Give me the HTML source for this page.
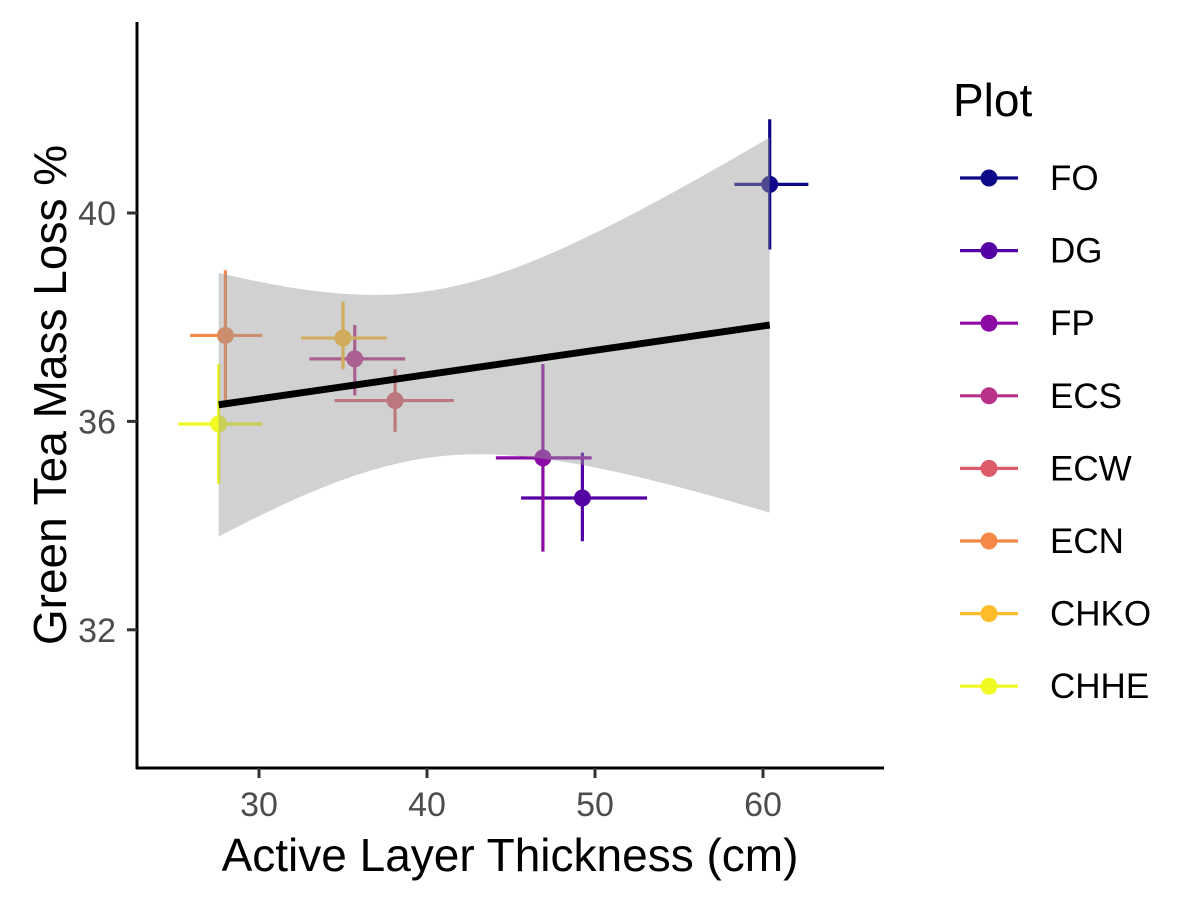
<!DOCTYPE html>
<html><head><meta charset="utf-8"><style>
body{margin:0;background:#fff;}
svg text{font-family:"Liberation Sans",Arial,sans-serif;}
</style></head><body>
<svg id="chart" width="1200" height="900" viewBox="0 0 1200 900">
<g id="marks"></g>
<g id="axes"></g>
<g id="legend"></g>
</svg>
<script>
const plots=["FO","DG","FP","ECS","ECW","ECN","CHKO","CHHE"];
const colors=["#0D0887","#5402A3","#8B0AA5","#B93289","#DB5C68","#F48849","#FEBC2A","#F0F921"];
const xVals=[60.4,49.25,46.9,35.7,38.1,28.0,35.0,27.6];
const yVals=[40.55,34.53,35.3,37.2,36.4,37.65,37.6,35.95];
const xLo=[58.3,45.6,44.1,33.0,34.5,25.9,32.5,25.2];
const xHi=[62.7,53.1,49.8,38.7,41.6,30.2,37.6,30.2];
const yLo=[39.3,33.7,33.5,36.5,35.8,36.4,37.0,34.8];
const yHi=[41.8,35.4,37.1,37.85,37.0,38.9,38.3,37.1];
const xTicks=[30,40,50,60];
const yTicks=[32,36,40];
const fitX=[27.6,60.4];
const fitY=[36.32,37.85];
const ns="http://www.w3.org/2000/svg";
const X=v=>259+(v-30)*16.8;
const Y=v=>213-(v-40)*52.1;
function mk(tag,attrs,parent){const e=document.createElementNS(ns,tag);for(const k in attrs)e.setAttribute(k,attrs[k]);parent.appendChild(e);return e;}
const marks=document.getElementById('marks'),axes=document.getElementById('axes'),legend=document.getElementById('legend');
plots.forEach((p,i)=>{
 const g=mk('g',{},marks);
 
 
 mk('line',{x1:X(xLo[i]),x2:X(xHi[i]),y1:Y(yVals[i]),y2:Y(yVals[i]),stroke:colors[i],'stroke-width':3.2},g);
 mk('line',{x1:X(xVals[i]),x2:X(xVals[i]),y1:Y(yLo[i]),y2:Y(yHi[i]),stroke:colors[i],'stroke-width':3.2},g);
 mk('circle',{cx:X(xVals[i]),cy:Y(yVals[i]),r:8.5,fill:colors[i]},g);
});
const slope=(fitY[1]-fitY[0])/(fitX[1]-fitX[0]);
const fit=x=>fitY[0]+slope*(x-fitX[0]);
const half=x=>Math.sqrt(1.6*1.6+0.025*(x-40)*(x-40));
let up=[],lo=[];
for(let k=0;k<=60;k++){const x=fitX[0]+(fitX[1]-fitX[0])*k/60;up.push(X(x)+','+Y(fit(x)+half(x)));lo.unshift(X(x)+','+Y(fit(x)-half(x)));}
const rib=mk('polygon',{points:up.concat(lo).join(' '),fill:'#999999','fill-opacity':0.45},marks);


const fl=mk('line',{x1:X(fitX[0]),y1:Y(fitY[0]),x2:X(fitX[1]),y2:Y(fitY[1]),stroke:'#000','stroke-width':7},marks);


const xa=mk('line',{x1:136,x2:884,y1:768,y2:768,stroke:'#000','stroke-width':3},axes);


const ya=mk('line',{x1:137,x2:137,y1:22,y2:769,stroke:'#000','stroke-width':3},axes);


xTicks.forEach(t=>{
 mk('line',{x1:X(t),x2:X(t),y1:768,y2:778,stroke:'#333','stroke-width':3},axes);
 const tx=mk('text',{x:X(t),y:816,'text-anchor':'middle','font-size':34,fill:'#4d4d4d'},axes);
 tx.textContent=t;
 
 
});
yTicks.forEach(t=>{
 mk('line',{x1:127,x2:137,y1:Y(t),y2:Y(t),stroke:'#333','stroke-width':3},axes);
 const tx=mk('text',{x:116,y:Y(t)+12,'text-anchor':'end','font-size':34,fill:'#4d4d4d'},axes);
 tx.textContent=t;
 
 
});
const xt=mk('text',{x:510,y:871,'text-anchor':'middle','font-size':46,fill:'#000'},axes);
xt.textContent='Active Layer Thickness (cm)';


const yt=mk('text',{x:0,y:0,'text-anchor':'middle','font-size':46,fill:'#000',transform:'translate(66,395) rotate(-90)'},axes);
yt.textContent='Green Tea Mass Loss %';


const lt=mk('text',{x:953,y:116,'font-size':46,fill:'#000'},legend);
lt.textContent='Plot';


plots.forEach((p,i)=>{
 const cy=178+i*72.6;
 const g=mk('g',{},legend);
 
 
 mk('line',{x1:960,x2:1018,y1:cy,y2:cy,stroke:colors[i],'stroke-width':3.2},g);
 mk('circle',{cx:989,cy:cy,r:8.5,fill:colors[i]},g);
 const t=mk('text',{x:1050,y:cy+12,'font-size':35,fill:'#000'},g);
 t.textContent=p;
});
</script>
</body></html>
